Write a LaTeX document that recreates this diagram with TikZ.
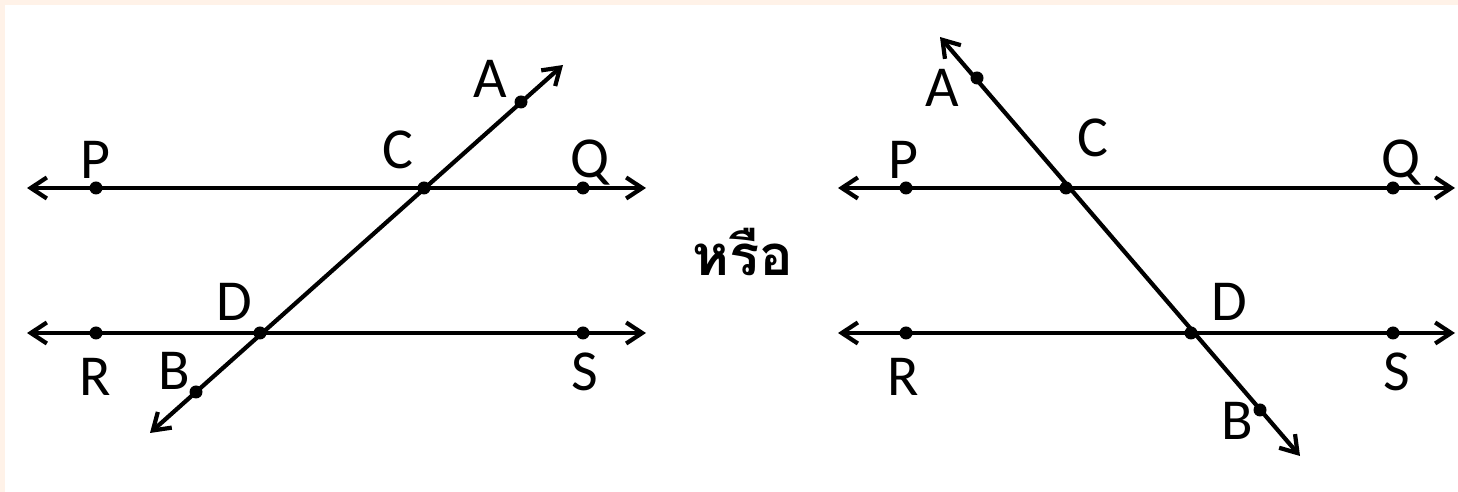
\documentclass[tikz,border=0pt]{standalone}
\usepackage{fontspec}
\setmainfont{Carlito}
\newfontfamily\thaifont[Script=Thai]{Loma}
\usetikzlibrary{arrows.meta}
\definecolor{framepeach}{RGB}{255,242,232}

\begin{document}
\begin{tikzpicture}[
  x=0.02cm, y=-0.02cm,
  line/.style={line width=2.4pt, line join=miter,
    {Straight Barb[length=0.32cm,width=0.42cm]}-{Straight Barb[length=0.32cm,width=0.42cm]}},
  dot/.style={circle, fill=black, inner sep=0pt, minimum size=0.26cm},
  lbl/.style={font=\fontsize{33}{36}\selectfont, inner sep=0pt}
]
% frame
\fill[framepeach] (0,0) rectangle (1458,492);
\fill[white] (5,5) rectangle (1458,492);
\useasboundingbox (0,0) rectangle (1458,492);

% left figure
\coordinate (lPQa) at (27,188);
\coordinate (lPQb) at (646,188);
\coordinate (lRSa) at (27,333);
\coordinate (lRSb) at (646,333);
\coordinate (lTa) at (150,433);
\coordinate (lTb) at (563,65);
\draw[line] (lPQa) -- (lPQb);
\draw[line] (lRSa) -- (lRSb);
\draw[line] (lTa) -- (lTb);
\node[dot] (lP) at (96,188) {};
\node[dot] (lQ) at (583,188) {};
\node[dot] (lR) at (96,333) {};
\node[dot] (lS) at (583,333) {};
\node[dot] (lC) at (424,188) {};
\node[dot] (lD) at (260,333) {};
\node[dot] (lA) at (521,102) {};
\node[dot] (lB) at (196,392) {};
\node[lbl] at (95,160) {P};
\node[lbl] at (590,163) {Q};
\node[lbl] at (95,377) {R};
\node[lbl] at (585,372) {S};
\node[lbl] at (398,150) {C};
\node[lbl] at (234,302) {D};
\node[lbl] at (490,79) {A};
\node[lbl] at (174,371) {B};

% middle
\node[font=\thaifont\bfseries\fontsize{32}{36}\selectfont, inner sep=0pt] (orw) at (743,252) {หรือ};

% right figure
\coordinate (rPQa) at (838,188);
\coordinate (rPQb) at (1455,188);
\coordinate (rRSa) at (838,333);
\coordinate (rRSb) at (1455,333);
\coordinate (rTa) at (940,37);
\coordinate (rTb) at (1300,456);
\draw[line] (rPQa) -- (rPQb);
\draw[line] (rRSa) -- (rRSb);
\draw[line] (rTa) -- (rTb);
\node[dot] (rP) at (906,188) {};
\node[dot] (rQ) at (1393,188) {};
\node[dot] (rR) at (906,333) {};
\node[dot] (rS) at (1393,333) {};
\node[dot] (rC) at (1066,188) {};
\node[dot] (rD) at (1191,333) {};
\node[dot] (rA) at (977,78) {};
\node[dot] (rB) at (1260,410) {};
\node[lbl] at (903,160) {P};
\node[lbl] at (1401,163) {Q};
\node[lbl] at (903,377) {R};
\node[lbl] at (1397,372) {S};
\node[lbl] at (1093,138) {C};
\node[lbl] at (1229,302) {D};
\node[lbl] at (942,88) {A};
\node[lbl] at (1237,421) {B};
\end{tikzpicture}
\end{document}
